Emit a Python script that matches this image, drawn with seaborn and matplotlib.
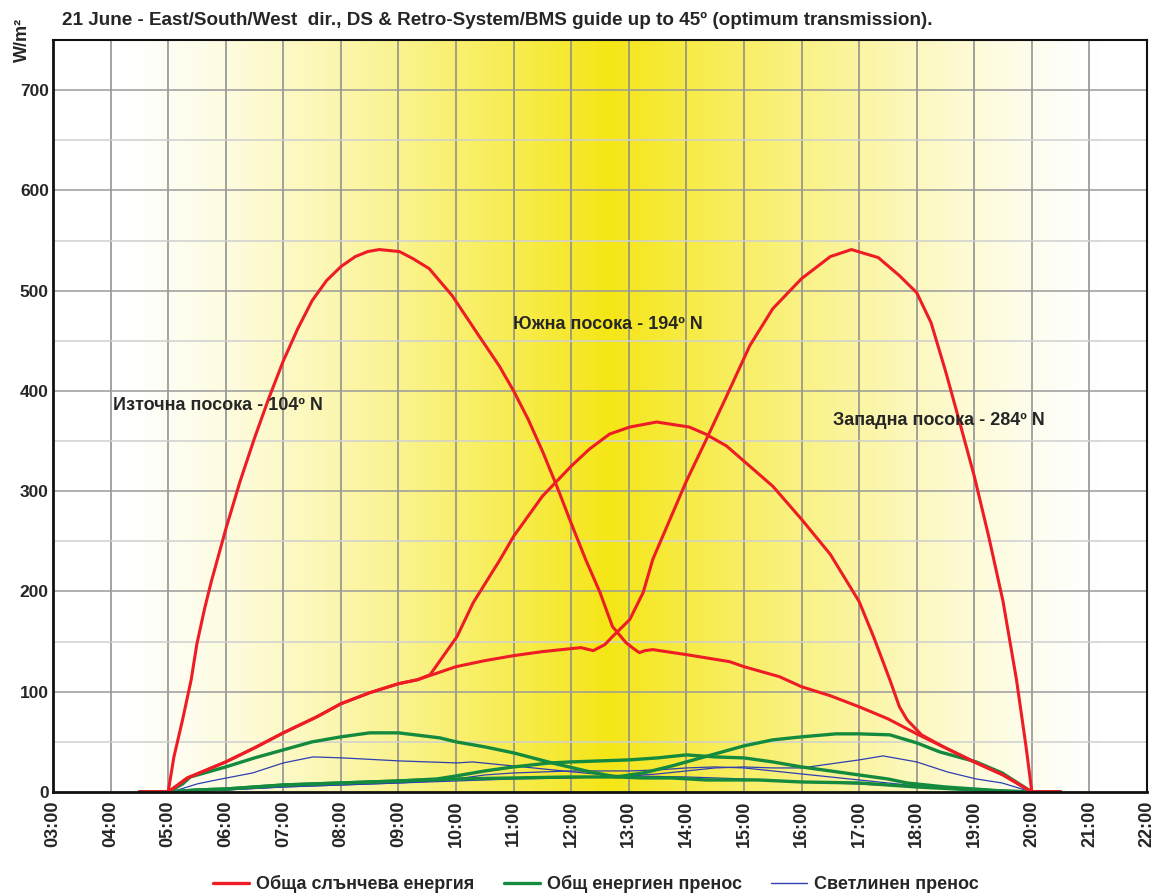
import numpy as np
import matplotlib
matplotlib.use("Agg")
import matplotlib.pyplot as plt
import seaborn as sns
from matplotlib.lines import Line2D

# ---------------- data ----------------
TITLE = "21 June - East/South/West  dir., DS & Retro-System/BMS guide up to 45º (optimum transmission)."
X_TICKS = ["03:00", "04:00", "05:00", "06:00", "07:00", "08:00", "09:00", "10:00", "11:00", "12:00",
           "13:00", "14:00", "15:00", "16:00", "17:00", "18:00", "19:00", "20:00", "21:00", "22:00"]
Y_TICKS = [0, 100, 200, 300, 400, 500, 600, 700]
LEGEND_LABELS = ["Обща слънчева енергия", "Общ енергиен пренос", "Светлинен пренос"]
ANNOTATIONS = ["Източна посока - 104º N", "Южна посока - 194º N", "Западна посока - 284º N"]

# Total solar energy (red)
E_t = ["04:30","05:00","05:06","05:15","05:24","05:30","05:38","05:45","06:00","06:15","06:30","06:45","07:00",
       "07:15","07:30","07:45","08:00","08:15","08:28","08:40","09:01","09:15","09:32","09:56","10:21","10:45","11:00",
       "11:15","11:30","11:45","12:00","12:15","12:30","12:43","12:57","13:05","13:11","13:17","13:25","14:00",
       "14:45","15:00","15:37","16:00","16:30","17:00","17:30","18:00","18:30","19:00","19:30","20:00","20:30"]
E_v = [0,0,35,72,112,148,183,210,262,310,353,393,430,462,490,510,524,534,539,541,539,532,522,495,459,425,400,
       372,340,305,268,232,199,165,149,143,139,141,142,137,130,125,115,105,96,85,73,58,44,30,17,0,0]

W_t = ["04:30","05:00","05:20","06:00","06:30","07:00","07:35","08:00","08:30","09:00","09:20","10:00","10:30",
       "11:00","11:30","12:00","12:10","12:23","12:35","12:43","13:01","13:15","13:25","14:00","14:20","14:42",
       "15:06","15:30","16:00","16:30","16:52","17:20","17:42","18:00","18:15","18:30","18:45","19:00","19:15",
       "19:30","19:44","19:54","20:00","20:30"]
W_v = [0,0,14,30,44,59,75,88,99,108,112,125,131,136,140,143,144,141,147,155,172,199,232,310,350,395,
       445,482,512,534,541,533,515,498,468,420,368,315,255,190,112,45,0,0]

S_t = ["04:30","05:00","05:20","06:00","06:30","07:00","07:35","08:00","08:30","09:00","09:20","09:33","10:01",
       "10:18","10:46","11:00","11:30","12:00","12:19","12:40","13:01","13:29","14:03","14:20","14:42","15:00",
       "15:30","16:00","16:30","17:00","17:15","17:32","17:42","17:50","18:05","18:30","19:00","19:30","20:00","20:30"]
S_v = [0,0,14,30,44,59,75,88,99,108,112,117,155,189,232,255,295,325,342,357,364,369,364,357,345,330,
       305,272,237,190,155,112,85,72,57,44,30,17,0,0]

# Total energy transmission (green)
GE_t = ["04:30","05:00","05:15","05:23","06:00","06:30","07:00","07:30","08:00","08:30","09:00","09:43","10:00",
        "10:30","11:00","11:40","12:20","12:47","13:15","13:45","14:20","15:15","16:00","17:00","18:00","19:00",
        "20:00","20:30"]
GE_v = [0,0,8,15,25,34,42,50,55,59,59,54,50,45,39,29,20,15,14,14,12,12,10,9,5,2,0,0]

GW_t = ["04:30","05:00","05:30","06:00","07:00","08:00","09:00","10:00","11:00","12:00","12:47","13:15","13:45",
        "14:00","14:30","15:00","15:30","16:00","16:36","17:00","17:32","18:00","18:24","19:02","19:29","20:00","20:30"]
GW_v = [0,0,2,3,7,9,11,13,14,15,15,19,26,30,38,46,52,55,58,58,57,49,40,30,19,0,0]

GS_t = ["04:30","05:00","05:30","06:00","07:00","08:00","09:00","09:40","10:00","10:30","11:00","11:38","12:00",
        "12:30","13:00","13:30","14:00","14:30","15:00","15:30","16:00","16:30","17:00","17:30","17:50","18:30",
        "19:00","19:30","20:00","20:30"]
GS_v = [0,0,2,3,7,9,11,13,16,21,25,29,30,31,32,34,37,35,34,30,25,21,17,13,9,5,3,1,0,0]

# Light transmission (blue)
BE_t = ["05:00","05:10","05:30","05:50","06:28","07:00","07:31","08:02","09:01","10:01","10:17","11:10","12:02",
        "12:37","13:00","14:00","15:00","16:00","17:00","18:00","19:00","20:00"]
BE_v = [0,2,8,12,19,29,35,34,31,29,30,25,20,17,16,15,13,10,8,5,3,0]

BW_t = ["05:00","06:00","07:00","08:00","09:00","10:00","11:00","12:00","12:30","13:00","13:30","14:00","14:30",
        "15:00","15:30","16:00","16:30","17:00","17:25","18:00","18:32","19:02","19:29","20:00"]
BW_v = [0,2,5,7,9,11,13,14,15,16,18,21,24,25,24,24,28,32,36,30,20,13,9,0]

BS_t = ["05:00","06:00","07:00","08:00","09:00","09:40","10:00","10:30","11:00","11:30","12:00","12:30","13:00",
        "13:30","14:00","14:30","15:00","15:30","16:00","16:30","17:00","17:30","18:00","19:00","20:00"]
BS_v = [0,2,5,7,9,11,13,17,19,20,21,21,21,22,24,25,24,21,18,15,12,9,6,3,0]


def hours(lst):
    return np.array([int(s[:2]) + int(s[3:]) / 60.0 for s in lst])


# ---------------- style ----------------
sns.set_style("white")
plt.rcParams['font.family'] = ['Liberation Sans', 'DejaVu Sans']
plt.rcParams['font.weight'] = 'bold'

RED = "#EE1C25"
GREEN = "#138A3E"
BLUE = "#2E3FB0"

fig = plt.figure(figsize=(11.57, 8.93), dpi=100)
ax = fig.add_axes([53 / 1157, 1 - 792 / 893, (1147 - 53) / 1157, (792 - 40) / 893])

# background gradient
xs = np.linspace(3, 22, 800)
t = np.clip(1 - np.abs(xs - 12.67) / 8.5, 0, 1) ** 1.3
white = np.array([1.0, 1.0, 1.0])
yellow = np.array([245, 230, 22]) / 255.0
img = white[None, :] + (yellow - white)[None, :] * t[:, None]
ax.imshow(img[None, :, :], extent=[3, 22, 0, 750], aspect='auto', zorder=-2, interpolation='bilinear')

# grid
for h in range(3, 23):
    ax.axvline(h, color="#8a8a8a", lw=1.1, zorder=0)
for v in range(50, 750, 50):
    ax.axhline(v, color="#9a9a9a" if v % 100 == 0 else "#cfcfcf", lw=1.1, zorder=0)

# lines
for tt, vv in [(GE_t, GE_v), (GW_t, GW_v), (GS_t, GS_v)]:
    sns.lineplot(x=hours(tt), y=vv, ax=ax, color=GREEN, lw=2.4, estimator=None, sort=False, zorder=3)
for tt, vv in [(BE_t, BE_v), (BW_t, BW_v), (BS_t, BS_v)]:
    sns.lineplot(x=hours(tt), y=vv, ax=ax, color=BLUE, lw=0.9, estimator=None, sort=False, zorder=2)
for tt, vv in [(E_t, E_v), (W_t, W_v), (S_t, S_v)]:
    sns.lineplot(x=hours(tt), y=vv, ax=ax, color=RED, lw=2.2, estimator=None, sort=False, zorder=4)

ax.set_xlim(3, 22)
ax.set_ylim(0, 750)
ax.set_xticks(range(3, 23))
ax.set_xticklabels(X_TICKS, rotation=90, fontsize=13, fontweight='bold')
ax.set_yticks(Y_TICKS)
ax.set_yticklabels([str(v) for v in Y_TICKS], fontsize=12.5, fontweight='bold')
ax.tick_params(axis='x', length=0, pad=6)
ax.tick_params(axis='y', length=0, pad=3)
ax.set_xlabel("")
ax.set_ylabel("")
for side, sp in ax.spines.items():
    sp.set_visible(True)
    sp.set_color("#111111")
    sp.set_linewidth(2.0 if side in ("left", "bottom") else 1.5)
    sp.set_zorder(6)

# annotations
ax.text(4.04, 385, ANNOTATIONS[0], fontsize=13, fontweight='bold', va='center', ha='left', zorder=7)
ax.text(12.64, 466, ANNOTATIONS[1], fontsize=13, fontweight='bold', va='center', ha='center', zorder=7)
ax.text(16.54, 371, ANNOTATIONS[2], fontsize=13, fontweight='bold', va='center', ha='left', zorder=7)

# title & y label
fig.text(62 / 1157, 1 - 20 / 893, TITLE, fontsize=13.6, fontweight='bold', va='center', ha='left')
fig.text(22 / 1157, 1 - 18 / 893, "W/m²", fontsize=13, fontweight='bold', rotation=90, va='top', ha='center')

# legend
handles = [Line2D([], [], color=RED, lw=2.4), Line2D([], [], color=GREEN, lw=2.4), Line2D([], [], color=BLUE, lw=1.0)]
if ax.get_legend() is not None:
    ax.get_legend().remove()
fig.legend(handles, LEGEND_LABELS, loc='center', bbox_to_anchor=(596 / 1157, 1 - 884 / 893), ncol=3,
           frameon=False, handlelength=2.0, columnspacing=1.6, handletextpad=0.4,
           prop={'weight': 'bold', 'size': 13.0})

fig.savefig("out.png", dpi=100)
